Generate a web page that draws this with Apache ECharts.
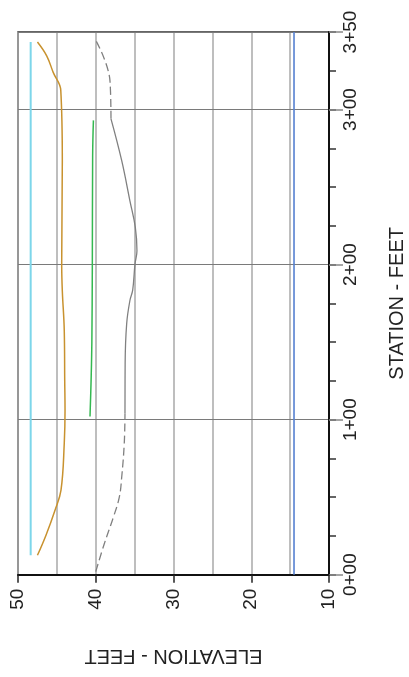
<!DOCTYPE html>
<html>
<head>
<meta charset="utf-8">
<script src="https://cdn.jsdelivr.net/npm/echarts@6/dist/echarts.min.js"></script>
<style>
html,body{margin:0;padding:0;background:#fff;}
#c{width:409px;height:677px;}
</style>
</head>
<body>
<div id="c"></div>
<script>
// Station (ft) / elevation (ft) pairs
const cyanLine   = [[12.5, 48.37], [343.5, 48.37]];
const blueLine   = [[0, 14.5], [350, 14.5]];
const orangeLine = [[12.5, 47.5], [25.5, 46.4], [41.6, 45.24], [54.5, 44.47], [84.8, 44.05], [106, 43.95], [125, 43.99], [157.5, 44.05], [183, 44.3], [200, 44.38], [267, 44.3], [312.5, 44.5], [323.8, 45.46], [334.6, 46.31], [343.5, 47.5]];
const greenLine  = [[102, 40.74], [125, 40.6], [150, 40.5], [200, 40.44], [270, 40.4], [293, 40.3]];
const grayDashLow  = [[2, 40.0], [20, 38.9], [37, 37.74], [50, 36.97], [63, 36.66], [85, 36.33], [104, 36.24]];
const graySolid    = [[104, 36.24], [136, 36.22], [162, 36.02], [177, 35.6], [183.5, 35.25], [200.5, 34.95], [209, 34.7], [224, 34.91], [241, 35.6], [267, 36.66], [294, 38.04]];
const grayDashHigh = [[294, 38.04], [318.5, 38.17], [344.7, 40.0]];

const elevationTicks = [10, 20, 30, 40, 50];
const stationLabels = ['0+00', '1+00', '2+00', '3+00', '3+50'];

const FONT = '"Liberation Sans", Arial, Helvetica, sans-serif';
const toXY = arr => arr.map(p => [p[1], p[0]]);
function staLabel(v) {
  const h = Math.floor(v / 100), r = Math.round(v % 100);
  return h + '+' + (r < 10 ? '0' + r : r);
}

const chart = echarts.init(document.getElementById('c'), null, {renderer: 'canvas'});
function line(data, color, width, dashed) {
  return {
    type: 'line', data: toXY(data), symbol: 'none', smooth: 0.4,
    xAxisIndex: 0, yAxisIndex: 0, silent: true,
    lineStyle: {color: color, width: width, type: dashed ? [8, 4] : 'solid'}
  };
}
chart.setOption({
  animation: false,
  backgroundColor: '#fff',
  grid: {left: 18, right: 80, top: 32, bottom: 102.3, show: true, borderColor: '#333', borderWidth: 1.5, containLabel: false, outerBoundsMode: 'none'},
  xAxis: [
    {
      type: 'value', position: 'bottom', min: elevationTicks[0], max: elevationTicks[elevationTicks.length - 1], interval: 10, inverse: true, z: 3,
      name: 'ELEVATION - FEET', nameLocation: 'middle', nameRotate: 180, nameGap: 71,
      nameTextStyle: {fontFamily: FONT, fontSize: 20, color: '#222'},
      axisLine: {show: true, lineStyle: {color: '#111', width: 2}},
      axisTick: {show: true, inside: false, length: 8, lineStyle: {color: '#222', width: 1.5}},
      axisLabel: {show: true, rotate: 90, margin: 14, fontFamily: FONT, fontSize: 19, color: '#222'},
      splitLine: {show: false}
    },
    {
      type: 'value', position: 'bottom', min: 10, max: 50, interval: 5, inverse: true, z: 1,
      axisLine: {show: false}, axisTick: {show: false}, axisLabel: {show: false},
      splitLine: {show: true, lineStyle: {color: '#a8a8a8', width: 1.5}}
    }
  ],
  yAxis: [
    {
      type: 'value', position: 'right', min: 0, max: 350, interval: 100, z: 3,
      name: 'STATION - FEET', nameLocation: 'middle', nameGap: 58,
      nameTextStyle: {fontFamily: FONT, fontSize: 20, color: '#222'},
      axisLine: {show: true, lineStyle: {color: '#111', width: 2}},
      axisTick: {show: true, inside: false, length: 14, lineStyle: {color: '#888', width: 1.5}},
      axisLabel: {show: true, rotate: 90, margin: 12.5, fontFamily: FONT, fontSize: 19, color: '#222',
        formatter: v => { const i = [0, 100, 200, 300, 350].indexOf(v); return i >= 0 ? stationLabels[i] : staLabel(v); }},
      splitLine: {show: true, lineStyle: {color: '#7a7a7a', width: 1.2}}
    },
    {
      type: 'value', position: 'right', min: 0, max: 350, interval: 25, z: 2,
      axisLine: {show: false},
      axisTick: {show: true, inside: false, length: 7, lineStyle: {color: '#333', width: 1.5}},
      axisLabel: {show: false}, splitLine: {show: false}
    }
  ],
  series: [
    line(blueLine, '#5580d0', 1.6, false),
    line(cyanLine, '#7dd6ea', 2, false),
    line(orangeLine, '#c8922f', 1.5, false),
    line(greenLine, '#34b850', 1.5, false),
    line(grayDashLow, '#808080', 1.3, true),
    line(graySolid, '#808080', 1.3, false),
    line(grayDashHigh, '#808080', 1.3, true)
  ]
});
</script>
</body>
</html>
